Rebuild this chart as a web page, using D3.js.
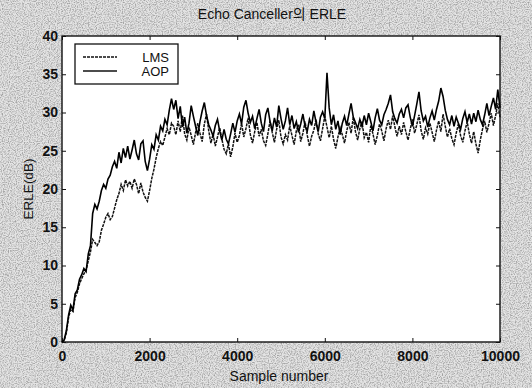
<!DOCTYPE html>
<html>
<head>
<meta charset="utf-8">
<script src="https://cdn.jsdelivr.net/npm/d3@7/dist/d3.min.js"></script>
<style>
  html, body { margin: 0; padding: 0; background: #fff; }
  svg { display: block; font-family: "Liberation Sans", Arial, sans-serif; }
</style>
</head>
<body>
<figure id="erle" style="margin:0"></figure>
<script>
// sample axis: one reading every 50 samples, 0..10000
const sampleStep = 50;
const xTicks = [0, 2000, 4000, 6000, 8000, 10000];
const yTicks = [0, 5, 10, 15, 20, 25, 30, 35, 40];

// ERLE (dB)
const lmsValues = [
  0, 0.2, 1.2, 3.2, 4.3, 4.0, 5.8, 6.5, 7.6, 8.3, 8.9, 9.4, 10.6, 11.8, 13.4, 13.0, 12.6, 13.1, 14.6, 15.4,
  16.3, 16.8, 16.0, 16.4, 17.5, 18.6, 19.4, 20.6, 19.8, 21.2, 20.4, 21.0, 20.1, 21.3, 20.6, 19.4, 20.8, 19.6, 18.9, 18.4,
  19.8, 21.4, 22.6, 24.1, 25.3, 26.2, 25.7, 26.8, 27.9, 27.1, 28.6,
  28.2, 27.1, 28.9, 27.5, 29.6, 27.2, 26.4, 28.1, 27.0, 25.8,
  27.4, 28.6, 27.3, 26.2, 28.5, 29.8, 27.6, 26.0, 27.2, 25.6,
  26.8, 28.0, 26.5, 25.2, 24.6, 25.9, 24.2, 25.5, 27.3, 26.1,
  27.0, 28.6, 26.8, 27.9, 29.3, 27.1, 26.0, 27.5, 28.7, 26.9,
  27.8, 26.3, 25.7, 27.2, 28.9, 27.4, 26.1, 27.8, 29.0, 26.8,
  25.9, 27.1, 26.4, 28.3, 27.0, 25.8, 27.6, 28.4, 26.2, 27.3,
  28.8, 27.0, 25.6, 26.9, 27.7, 29.1, 27.2, 26.3, 27.9, 29.5,
  28.1, 26.7, 28.2, 26.5, 25.3, 26.8, 28.0, 27.1, 26.0, 27.6,
  28.7, 27.3, 29.4, 27.5, 26.4, 27.9, 28.8, 26.7, 27.4, 26.1,
  28.3, 27.2, 25.8, 27.0, 28.5, 27.6, 26.3, 27.9, 29.0, 27.8,
  29.6, 28.1, 26.9, 28.2, 27.1, 28.7, 27.5, 26.4, 27.8, 29.1,
  27.3, 28.4, 29.7, 27.6, 26.5, 28.0, 27.2, 28.6, 27.4, 26.2,
  27.7, 28.9, 27.5, 29.8, 28.2, 26.8, 27.9, 26.6, 25.8, 27.3,
  28.5, 27.0, 26.1, 27.6, 28.8, 27.2, 26.0, 27.5, 25.9, 24.7,
  26.4, 27.8, 28.9, 27.4, 28.6, 29.9, 28.3, 29.6, 31.2, 29.4
];
const aopValues = [
  0, 0.3, 1.5, 3.5, 4.8, 4.2, 6.3, 6.8, 8.2, 8.8, 9.6, 9.2, 11.5, 12.6, 16.8, 18.0, 17.4, 18.4, 19.8, 20.6,
  20.1, 21.3, 21.8, 22.9, 23.6, 22.7, 24.8, 23.4, 25.3, 24.1, 25.6, 23.9, 25.1, 26.4, 24.6, 23.8, 25.9, 26.3, 23.6, 22.4,
  23.9, 25.8, 25.2, 27.1, 26.4, 28.2, 27.6, 29.1, 28.4, 30.3, 31.8,
  30.4, 31.6, 29.2, 30.8, 28.1, 29.4, 27.3, 28.6, 30.9, 29.5, 28.2, 27.0, 28.8, 30.2, 31.3, 29.6, 28.4, 27.7, 26.9, 28.3,
  29.1, 27.6, 26.4, 27.8, 26.5, 25.9, 27.2, 28.6, 27.4, 28.9, 29.8, 28.5, 30.7, 31.6, 29.9, 28.7, 29.5, 27.9, 29.2, 30.4,
  28.6, 27.5, 29.7, 30.6, 28.8, 27.6, 29.3, 28.1, 30.9, 29.2, 27.8, 28.9, 30.6, 28.4, 29.6, 27.9, 28.8, 27.4, 28.5, 29.8,
  28.2, 27.6, 29.1, 28.3, 30.2, 28.7, 27.5, 29.4, 30.1, 29.2, 35.2, 30.6, 28.4, 29.7, 27.8, 28.9, 27.1, 28.6, 29.5, 28.3,
  29.8, 31.2, 29.4, 28.7, 27.9, 29.1, 28.2, 29.6, 28.4, 29.9, 28.8, 27.6, 29.3, 30.5, 29.0, 28.4, 29.7, 30.4, 31.2, 32.3,
  30.1, 29.2, 28.6, 29.8, 30.4, 29.3, 30.6, 31.0, 29.4, 28.2, 29.6, 31.1, 32.7, 30.2, 28.9, 29.5, 28.1, 29.3, 30.2, 29.0,
  30.4, 31.5, 33.2, 32.1, 30.3, 29.1, 28.4, 29.6, 28.2, 29.4, 28.6, 27.8, 29.2, 30.1, 28.7, 29.8, 28.5, 29.9, 28.8, 30.3,
  29.1, 28.4, 29.7, 31.2, 29.6, 30.8, 31.9, 30.4, 33.0, 30.6
];
const seriesNames = ["LMS", "AOP"];

const W = 532, H = 388;
const margin = {left: 62, right: 32, top: 36, bottom: 46};
const ink = "#111";

const svg = d3.select("figure#erle")
  .append("svg")
  .attr("width", W)
  .attr("height", H);

// scanned-paper background
const defs = svg.append("defs");
const grain = defs.append("filter").attr("id", "grain")
  .attr("x", 0).attr("y", 0).attr("width", "100%").attr("height", "100%");
grain.append("feTurbulence")
  .attr("type", "fractalNoise").attr("baseFrequency", 0.85)
  .attr("numOctaves", 2).attr("seed", 7).attr("result", "noise");
grain.append("feColorMatrix")
  .attr("type", "matrix")
  .attr("values", "0 0 0 0 0.35  0 0 0 0 0.35  0 0 0 0 0.35  0 0 0 -2.4 1.45");

svg.append("rect").attr("width", W).attr("height", H).attr("fill", "#e4e4e4");
svg.append("rect").attr("width", W).attr("height", H).attr("filter", "url(#grain)");

const x = d3.scaleLinear()
  .domain([0, 10000])
  .range([margin.left, W - margin.right]);
const y = d3.scaleLinear()
  .domain([0, 40])
  .range([H - margin.bottom, margin.top]);

// plot area
svg.append("rect")
  .attr("x", x(0)).attr("y", y(40))
  .attr("width", x(10000) - x(0))
  .attr("height", y(0) - y(40))
  .attr("fill", "#fff")
  .attr("stroke", ink)
  .attr("stroke-width", 1.4);

// axes with inward ticks on all four sides
const tickFont = g => g.selectAll("text")
  .attr("font-size", 14)
  .attr("font-weight", "bold")
  .attr("fill", ink);

svg.append("g")
  .attr("transform", `translate(0,${y(0)})`)
  .call(d3.axisBottom(x).tickValues(xTicks).tickFormat(d3.format("d")).tickSizeInner(-4).tickSizeOuter(0).tickPadding(9))
  .call(g => g.select(".domain").remove())
  .call(g => g.selectAll("line").attr("stroke", ink))
  .call(tickFont);

svg.append("g")
  .attr("transform", `translate(0,${y(40)})`)
  .call(d3.axisTop(x).tickValues(xTicks).tickFormat("").tickSizeInner(-4).tickSizeOuter(0))
  .call(g => g.select(".domain").remove())
  .call(g => g.selectAll("line").attr("stroke", ink));

svg.append("g")
  .attr("transform", `translate(${x(0)},0)`)
  .call(d3.axisLeft(y).tickValues(yTicks).tickSizeInner(-4).tickSizeOuter(0).tickPadding(4))
  .call(g => g.select(".domain").remove())
  .call(g => g.selectAll("line").attr("stroke", ink))
  .call(tickFont);

svg.append("g")
  .attr("transform", `translate(${x(10000)},0)`)
  .call(d3.axisRight(y).tickValues(yTicks).tickFormat("").tickSizeInner(-4).tickSizeOuter(0))
  .call(g => g.select(".domain").remove())
  .call(g => g.selectAll("line").attr("stroke", ink));

// the two ERLE curves
const line = d3.line()
  .x((d, i) => x(i * sampleStep))
  .y(d => y(d));

svg.append("path")
  .datum(lmsValues)
  .attr("fill", "none")
  .attr("stroke", ink)
  .attr("stroke-width", 1.5)
  .attr("stroke-dasharray", "3,1")
  .attr("d", line);

svg.append("path")
  .datum(aopValues)
  .attr("fill", "none")
  .attr("stroke", "#000")
  .attr("stroke-width", 1.6)
  .attr("d", line);

// legend
const legend = svg.append("g");
legend.append("rect")
  .attr("x", 75).attr("y", 44)
  .attr("width", 103).attr("height", 40)
  .attr("fill", "#fff").attr("stroke", ink).attr("stroke-width", 1.3);
seriesNames.forEach((name, i) => {
  const ly = 57 + i * 14;
  legend.append("line")
    .attr("x1", 83).attr("x2", 117).attr("y1", ly).attr("y2", ly)
    .attr("stroke", ink).attr("stroke-width", 1.3)
    .attr("stroke-dasharray", i === 0 ? "3,1" : null);
  legend.append("text")
    .attr("x", 169).attr("y", ly + 4.5)
    .attr("text-anchor", "end")
    .attr("font-size", 13)
    .attr("fill", ink)
    .text(name);
});

// title and axis labels
svg.append("text")
  .attr("x", 272).attr("y", 19)
  .attr("text-anchor", "middle")
  .attr("font-size", 14)
  .attr("fill", ink)
  .attr("font-family", "'Liberation Sans', 'Noto Sans CJK KR', sans-serif")
  .text("Echo Canceller의 ERLE");

svg.append("text")
  .attr("x", 279).attr("y", 381)
  .attr("text-anchor", "middle")
  .attr("font-size", 14)
  .attr("fill", ink)
  .text("Sample number");

svg.append("text")
  .attr("transform", `translate(33,${(y(0) + y(40)) / 2}) rotate(-90)`)
  .attr("text-anchor", "middle")
  .attr("font-size", 13.5)
  .attr("fill", ink)
  .text("ERLE(dB)");
</script>
</body>
</html>
